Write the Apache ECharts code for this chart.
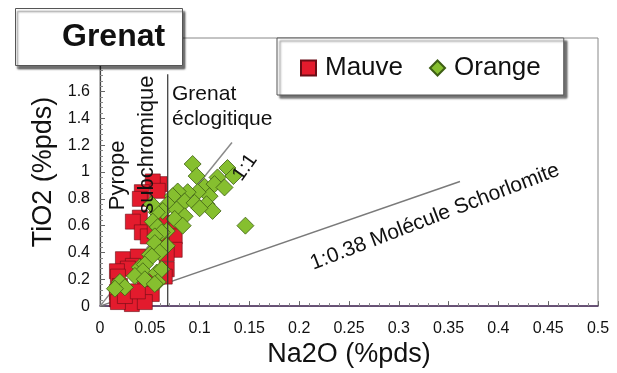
<!DOCTYPE html>
<html>
<head>
<meta charset="utf-8">
<script src="https://cdn.jsdelivr.net/npm/echarts@6/dist/echarts.min.js"></script>
<style>
html,body{margin:0;padding:0;background:#fff}
#chart{width:617px;height:373px}
</style>
</head>
<body>
<div id="chart"></div>
<script>
// Grenat : TiO2 vs Na2O (%pds)
var mauveNa2O = [0.060,0.053,0.042,0.058,0.040,0.040,0.033,0.062,0.077,0.042,0.048,0.055,0.072,0.075,0.062,0.075,0.067,0.023,0.038,0.033,0.028,0.067,0.065,0.017,0.018,0.020,0.017,0.017,0.028,0.037,0.048,0.047,0.045,0.052,0.032,0.045,0.018,0.025,0.038];
var mauveTiO2 = [0.91,0.93,0.85,0.86,0.80,0.66,0.63,0.625,0.62,0.55,0.52,0.56,0.475,0.52,0.50,0.42,0.39,0.35,0.37,0.30,0.28,0.275,0.22,0.26,0.22,0.15,0.105,0.05,0.05,0.075,0.11,0.18,0.14,0.09,0.015,0.03,0.03,0.075,0.11];

var orangeNa2O = [0.093,0.097,0.128,0.134,0.118,0.105,0.115,0.125,0.110,0.098,0.088,0.078,0.073,0.085,0.095,0.107,0.113,0.100,0.068,0.063,0.077,0.085,0.075,0.083,0.057,0.053,0.058,0.067,0.052,0.146,0.062,0.055,0.055,0.067,0.050,0.060,0.052,0.040,0.045,0.043,0.035,0.045,0.057,0.062,0.058,0.055,0.020,0.025,0.015];
var orangeTiO2 = [1.06,0.97,1.03,0.97,0.96,0.89,0.91,0.885,0.82,0.85,0.85,0.855,0.82,0.78,0.77,0.76,0.71,0.73,0.76,0.71,0.72,0.67,0.65,0.60,0.70,0.63,0.59,0.56,0.76,0.60,0.55,0.52,0.47,0.45,0.385,0.40,0.37,0.29,0.31,0.26,0.225,0.20,0.25,0.275,0.18,0.165,0.18,0.14,0.13];

// droites de référence
var ligne11 = [[0,0],[0.1325,1.22]];
var ligneSchorlomite = [[0,0],[0.3614,0.93]];
var limitePyrope = [[0.068,0],[0.068,1.73]];

function paires(xs, ys){
	var out=[];
	for(var i=0;i<xs.length;i++){
		out.push([xs[i],ys[i]]);
	}
	return out;
}

var police='"Liberation Sans", Arial, sans-serif';
var chart=echarts.init(document.getElementById('chart'));

var option={
	backgroundColor:'#ffffff',
	animation:false,
	title:{
		text:'Grenat',
		left:15,
		top:8,
		padding:[13,18,13,47],
		backgroundColor:'#ffffff',
		borderColor:'#555',
		borderWidth:1,
		shadowColor:'rgba(0,0,0,0.55)',
		shadowBlur:2,
		shadowOffsetX:2,
		shadowOffsetY:3,
		textStyle:{fontFamily:police,fontSize:32,fontWeight:'bold',color:'#111'},
		z:20
	},
	legend:{
		left:277,
		top:38,
		padding:[17,23,14,23],
		itemGap:26,
		itemWidth:15,
		itemHeight:15,
		backgroundColor:'#ffffff',
		borderColor:'#555',
		borderWidth:1,
		shadowColor:'rgba(0,0,0,0.55)',
		shadowBlur:2,
		shadowOffsetX:3,
		shadowOffsetY:3,
		textStyle:{fontFamily:police,fontSize:26,color:'#111',padding:[0,0,0,4]},
		data:[{name:'Mauve',icon:'rect'},{name:'Orange',icon:'diamond'}],
		z:20
	},
	grid:{
		left:100,
		right:19,
		top:38,
		bottom:66,
		show:true,
		borderColor:'#888',
		borderWidth:1
	},
	xAxis:{
		type:'value',
		min:0,
		max:0.5,
		interval:0.05,
		name:'Na2O (%pds)',
		nameLocation:'middle',
		nameGap:34,
		nameTextStyle:{fontFamily:police,fontSize:27,color:'#111'},
		axisLine:{show:true,onZero:false,lineStyle:{color:'#4a2c5c',width:1.5}},
		axisTick:{show:true,inside:true,length:5,lineStyle:{color:'#666'}},
		minorTick:{show:true,splitNumber:5,length:3,lineStyle:{color:'#888'}},
		axisLabel:{fontFamily:police,fontSize:16,color:'#111',margin:14},
		splitLine:{show:false}
	},
	yAxis:{
		type:'value',
		min:0,
		max:2,
		interval:0.2,
		name:'TiO2 (%pds)',
		nameLocation:'middle',
		nameGap:38,
		nameTextStyle:{fontFamily:police,fontSize:27,color:'#111'},
		axisLine:{show:true,onZero:false,lineStyle:{color:'#444',width:1.2}},
		axisTick:{show:true,inside:true,length:5,lineStyle:{color:'#666'}},
		minorTick:{show:true,splitNumber:5,length:3,lineStyle:{color:'#888'}},
		axisLabel:{
			fontFamily:police,fontSize:16,color:'#111',margin:10,
			formatter:function(v){ return v>1.65 ? '' : String(Math.round(v*10)/10); }
		},
		splitLine:{show:false}
	},
	series:[
		{
			name:'1:0.38',
			type:'line',
			data:ligneSchorlomite,
			symbol:'none',
			silent:true,
			lineStyle:{color:'#7a7a7a',width:1.5},
			z:1
		},
		{
			name:'1:1',
			type:'line',
			data:ligne11,
			symbol:'none',
			silent:true,
			lineStyle:{color:'#8a8a8a',width:1.5},
			z:1
		},
		{
			name:'Mauve',
			type:'scatter',
			data:paires(mauveNa2O,mauveTiO2),
			symbol:'rect',
			symbolSize:15,
			itemStyle:{color:'#e31b2d',borderColor:'#6a0d16',borderWidth:0.6,opacity:1},
			z:2
		},
		{
			name:'Orange',
			type:'scatter',
			data:paires(orangeNa2O,orangeTiO2),
			symbol:'diamond',
			symbolSize:17,
			itemStyle:{color:'#86bf2f',borderColor:'#3d5e14',borderWidth:0.8,opacity:1},
			z:3
		},
		{
			name:'limite',
			type:'line',
			data:limitePyrope,
			symbol:'none',
			silent:true,
			lineStyle:{color:'#333',width:1.2},
			z:4
		}
	]
};
chart.setOption(option);

// annotations placées en coordonnées de données
var notes=[
	{texte:'Grenat\néclogitique',na2o:0.0723,tio2:1.674,rot:0,align:'left',valign:'top',taille:21},
	{texte:'Pyrope',na2o:0.0181,tio2:0.975,rot:90,align:'center',valign:'middle',taille:22},
	{texte:'subchromique',na2o:0.0472,tio2:1.205,rot:90,align:'center',valign:'middle',taille:22},
	{texte:'1:1',na2o:0.1456,tio2:1.034,rot:55,align:'center',valign:'middle',taille:20},
	{texte:'1:0.38 Molécule Schorlomite',na2o:0.3363,tio2:0.666,rot:21,align:'center',valign:'middle',taille:21}
];
var graphics=[];
for(var i=0;i<notes.length;i++){
	var n=notes[i];
	var p=chart.convertToPixel({gridIndex:0},[n.na2o,n.tio2]);
	graphics.push({
		type:'text',
		x:p[0],
		y:p[1],
		rotation:n.rot*Math.PI/180,
		z:50,
		silent:true,
		style:{
			text:n.texte,
			fontFamily:police,
			fontSize:n.taille,
			lineHeight:25,
			fill:'#111',
			align:n.align,
			verticalAlign:n.valign,
			textAlign:n.align,
			textVerticalAlign:n.valign
		}
	});
}
chart.setOption({graphic:graphics});
</script>
</body>
</html>
